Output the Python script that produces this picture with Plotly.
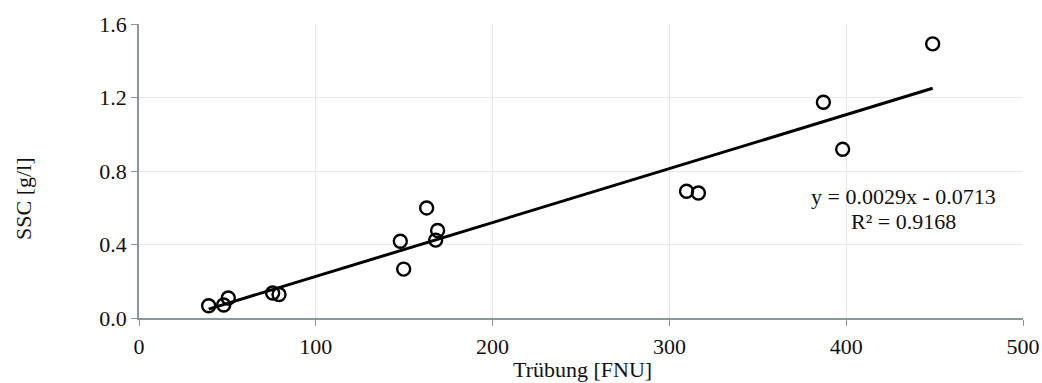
import numpy as np
import plotly.graph_objects as go

turbidity = [39.4, 47.9, 50.5, 75.6, 79.2, 147.8, 149.7, 162.7, 168.9, 167.8,
             309.7, 316.4, 387.1, 398.0, 448.9]
ssc = [0.067, 0.071, 0.109, 0.136, 0.128, 0.418, 0.266, 0.599, 0.476, 0.424,
       0.690, 0.680, 1.174, 0.918, 1.492]

eq_text = "y = 0.0029x - 0.0713"
r2_text = "R² = 0.9168"
x_title = "Trübung [FNU]"
y_title = "SSC [g/l]"
x_ticks = [0, 100, 200, 300, 400, 500]
y_ticks = [0.0, 0.4, 0.8, 1.2, 1.6]
y_tick_labels = ["0.0", "0.4", "0.8", "1.2", "1.6"]

slope, intercept = np.polyfit(turbidity, ssc, 1)
fit_x = [min(turbidity), max(turbidity)]
fit_y = [slope * v + intercept for v in fit_x]

FONT = "Liberation Serif"
FS = 22
TXT = "#111"
AXIS_COL = "#8c9898"
GRID_COL = "#e6eaec"

W, H = 1042, 383
L, R, T, B = 139, 19, 24, 65
PW, PH = W - L - R, H - T - B


def px_to_paper(px, py):
    return (px - L) / PW, (H - B - py) / PH


fig = go.Figure()
fig.add_trace(go.Scatter(x=fit_x, y=fit_y, mode="lines",
                         line=dict(color="black", width=3), showlegend=False))
fig.add_trace(go.Scatter(x=turbidity, y=ssc, mode="markers",
                         marker=dict(symbol="circle-open", size=13,
                                     color="black", line=dict(width=2.4, color="black")),
                         showlegend=False))

ann = []
for text, (px, py), angle in [(y_title, (23, 199), -90),
                              (x_title, (582, 369), 0),
                              (eq_text, (903, 196), 0),
                              (r2_text, (903, 221), 0)]:
    ax, ay = px_to_paper(px, py)
    ann.append(dict(x=ax, y=ay, xref="paper", yref="paper", text=text,
                    textangle=angle, showarrow=False, xanchor="center",
                    yanchor="middle", font=dict(size=FS, family=FONT, color=TXT)))

fig.update_layout(
    width=W, height=H,
    margin=dict(l=L, r=R, t=T, b=B, autoexpand=False),
    plot_bgcolor="white", paper_bgcolor="white",
    font=dict(family=FONT, size=FS, color=TXT),
    xaxis=dict(range=[0, 500], tickvals=x_ticks, showgrid=True, gridcolor=GRID_COL,
               gridwidth=1, showline=True, linecolor=AXIS_COL, linewidth=1.5,
               ticks="outside", ticklen=6, tickcolor=AXIS_COL, zeroline=False,
               automargin=False, ticklabelstandoff=2),
    yaxis=dict(range=[0, 1.6], tickvals=y_ticks, ticktext=y_tick_labels,
               showgrid=True, gridcolor=GRID_COL, gridwidth=1,
               showline=True, linecolor=AXIS_COL, linewidth=1.5,
               ticks="outside", ticklen=6, tickcolor=AXIS_COL, zeroline=False,
               automargin=False, ticklabelstandoff=0),
    annotations=ann,
)

fig.write_html("out.html", config={"displayModeBar": False},
               post_script="document.body.style.margin='0';document.body.style.overflow='hidden';")
